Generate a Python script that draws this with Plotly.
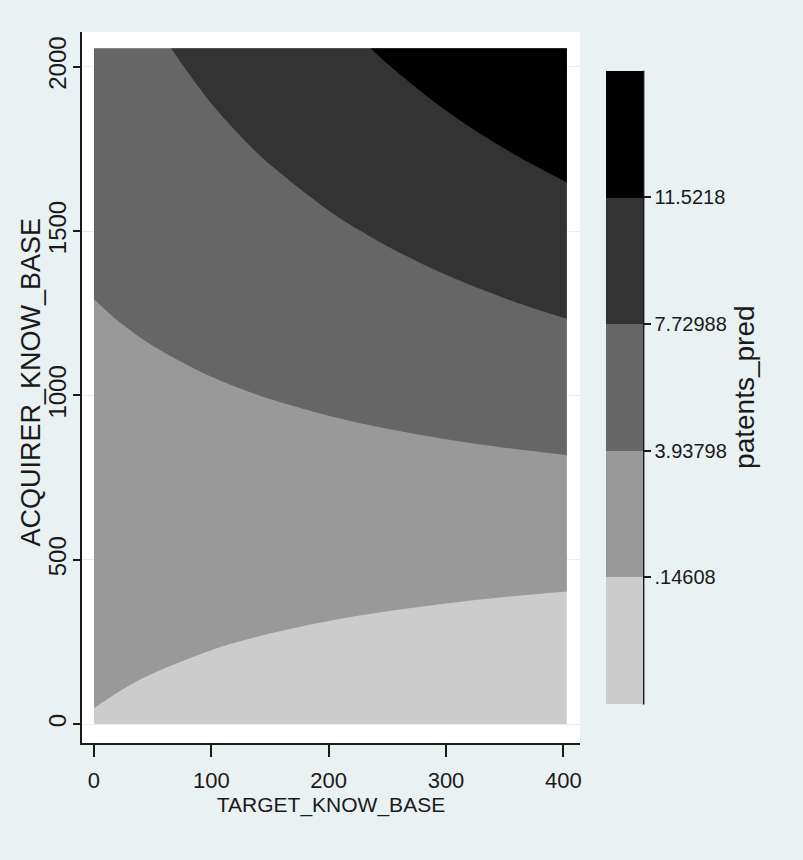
import plotly.graph_objects as go

# ---- data ----
target_know_base = [0, 25, 50, 100, 150, 200, 250, 300, 350, 403]
acquirer_know_base = [0, 250, 500, 750, 1000, 1250, 1500, 1750, 2056]
# estimated patents_pred at each (acquirer row, target column)
patents_pred = [
    [-0.002, -0.222, -0.442, -0.882, -1.322, -1.762, -2.202, -2.642, -3.082, -3.548],
    [0.760, 0.634, 0.509, 0.258, 0.007, -0.244, -0.494, -0.745, -0.996, -1.262],
    [1.522, 1.491, 1.460, 1.398, 1.337, 1.275, 1.213, 1.152, 1.090, 1.025],
    [2.284, 2.348, 2.411, 2.539, 2.666, 2.794, 2.921, 3.048, 3.176, 3.311],
    [3.046, 3.204, 3.363, 3.679, 3.996, 4.312, 4.629, 4.945, 5.262, 5.597],
    [3.808, 4.061, 4.314, 4.819, 5.325, 5.831, 6.336, 6.842, 7.347, 7.883],
    [4.570, 4.918, 5.265, 5.960, 6.654, 7.349, 8.044, 8.738, 9.433, 10.170],
    [5.332, 5.774, 6.216, 7.100, 7.984, 8.868, 9.751, 10.635, 11.519, 12.456],
    [6.265, 6.823, 7.380, 8.496, 9.611, 10.726, 11.841, 12.957, 14.072, 15.254],
]
cut_levels = [0.14608, 3.93798, 7.72988, 11.5218]
cut_labels = [".14608", "3.93798", "7.72988", "11.5218"]
band_colors = ["#cccccc", "#999999", "#666666", "#333333", "#000000"]
x_ticks = [0, 100, 200, 300, 400]
y_ticks = [0, 500, 1000, 1500, 2000]

step = cut_levels[1] - cut_levels[0]
n = len(band_colors)
colorscale = []
for i, c in enumerate(band_colors):
    colorscale.append([i / n, c])
    colorscale.append([(i + 1) / n, c])

FONT = "Liberation Sans, Arial, sans-serif"
INK = "#1a1a1a"
BG = "#eaf1f3"

# plot area in pixels
L, R, T, B = 82, 580, 32, 743
W, H = 803, 860
pw, ph = R - L, B - T

cb_left, cb_right, cb_top, cb_bot = 606, 643, 70.7, 703.5

fig = go.Figure()
fig.add_trace(go.Contour(
    x=target_know_base,
    y=acquirer_know_base,
    z=patents_pred,
    colorscale=colorscale,
    zauto=False,
    zmin=cut_levels[0] - step,
    zmax=cut_levels[-1] + step,
    autocontour=False,
    contours=dict(start=cut_levels[0], end=cut_levels[-1], size=step,
                  coloring="fill", showlines=False),
    line=dict(width=0),
    colorbar=dict(
        x=(cb_left - L) / pw, xanchor="left", xpad=0,
        y=(B - cb_top) / ph, yanchor="top", ypad=0,
        lenmode="pixels", len=cb_bot - cb_top,
        thickness=cb_right - cb_left, thicknessmode="pixels",
        outlinewidth=0, borderwidth=0,
        tickmode="array", tickvals=cut_levels, ticktext=cut_labels,
        ticks="outside", ticklen=8, tickwidth=1.5, tickcolor=INK,
        tickfont=dict(family=FONT, size=20, color=INK),
        title=dict(text="patents_pred", side="right",
                   font=dict(family=FONT, size=28, color=INK)),
    ),
    hoverinfo="skip",
))

# axis line on the right side of the colour key
fig.add_shape(type="line", xref="paper", yref="paper", layer="above",
              x0=(cb_right + 0.6 - L) / pw, x1=(cb_right + 0.6 - L) / pw,
              y0=(B - cb_bot - 1) / ph, y1=(B - cb_top) / ph,
              line=dict(color=INK, width=1.6))

fig.add_annotation(
    text="ACQUIRER_KNOW_BASE", textangle=-90,
    xref="paper", yref="paper",
    x=(30 - L) / pw, y=(B - 382.5) / ph,
    xanchor="center", yanchor="middle", showarrow=False,
    font=dict(family=FONT, size=27, color=INK),
)

fig.update_layout(
    width=W, height=H,
    margin=dict(l=L, r=W - R, t=T, b=H - B, pad=0),
    paper_bgcolor=BG, plot_bgcolor="white",
    showlegend=False,
    font=dict(family=FONT, color=INK),
)
fig.update_xaxes(
    range=[-10.2, 414.2], tickmode="array", tickvals=x_ticks,
    showgrid=False, zeroline=False,
    showline=True, linecolor=INK, linewidth=1.5,
    ticks="outside", ticklen=12, tickwidth=1.5, tickcolor=INK,
    tickfont=dict(family=FONT, size=22, color=INK),
    ticklabelstandoff=5,
    title=dict(text="TARGET_KNOW_BASE", font=dict(family=FONT, size=21, color=INK), standoff=2),
)
fig.update_yaxes(
    range=[-56.9, 2105.5], tickmode="array", tickvals=y_ticks,
    showgrid=True, gridcolor="#e4eef0", gridwidth=1, zeroline=False,
    showline=True, linecolor=INK, linewidth=1.5,
    ticks="outside", ticklen=7, tickwidth=1.5, tickcolor=INK,
    tickangle=-90,
    tickfont=dict(family=FONT, size=24, color=INK),
    ticklabelstandoff=-2,
)

fig.write_html("out.html")
